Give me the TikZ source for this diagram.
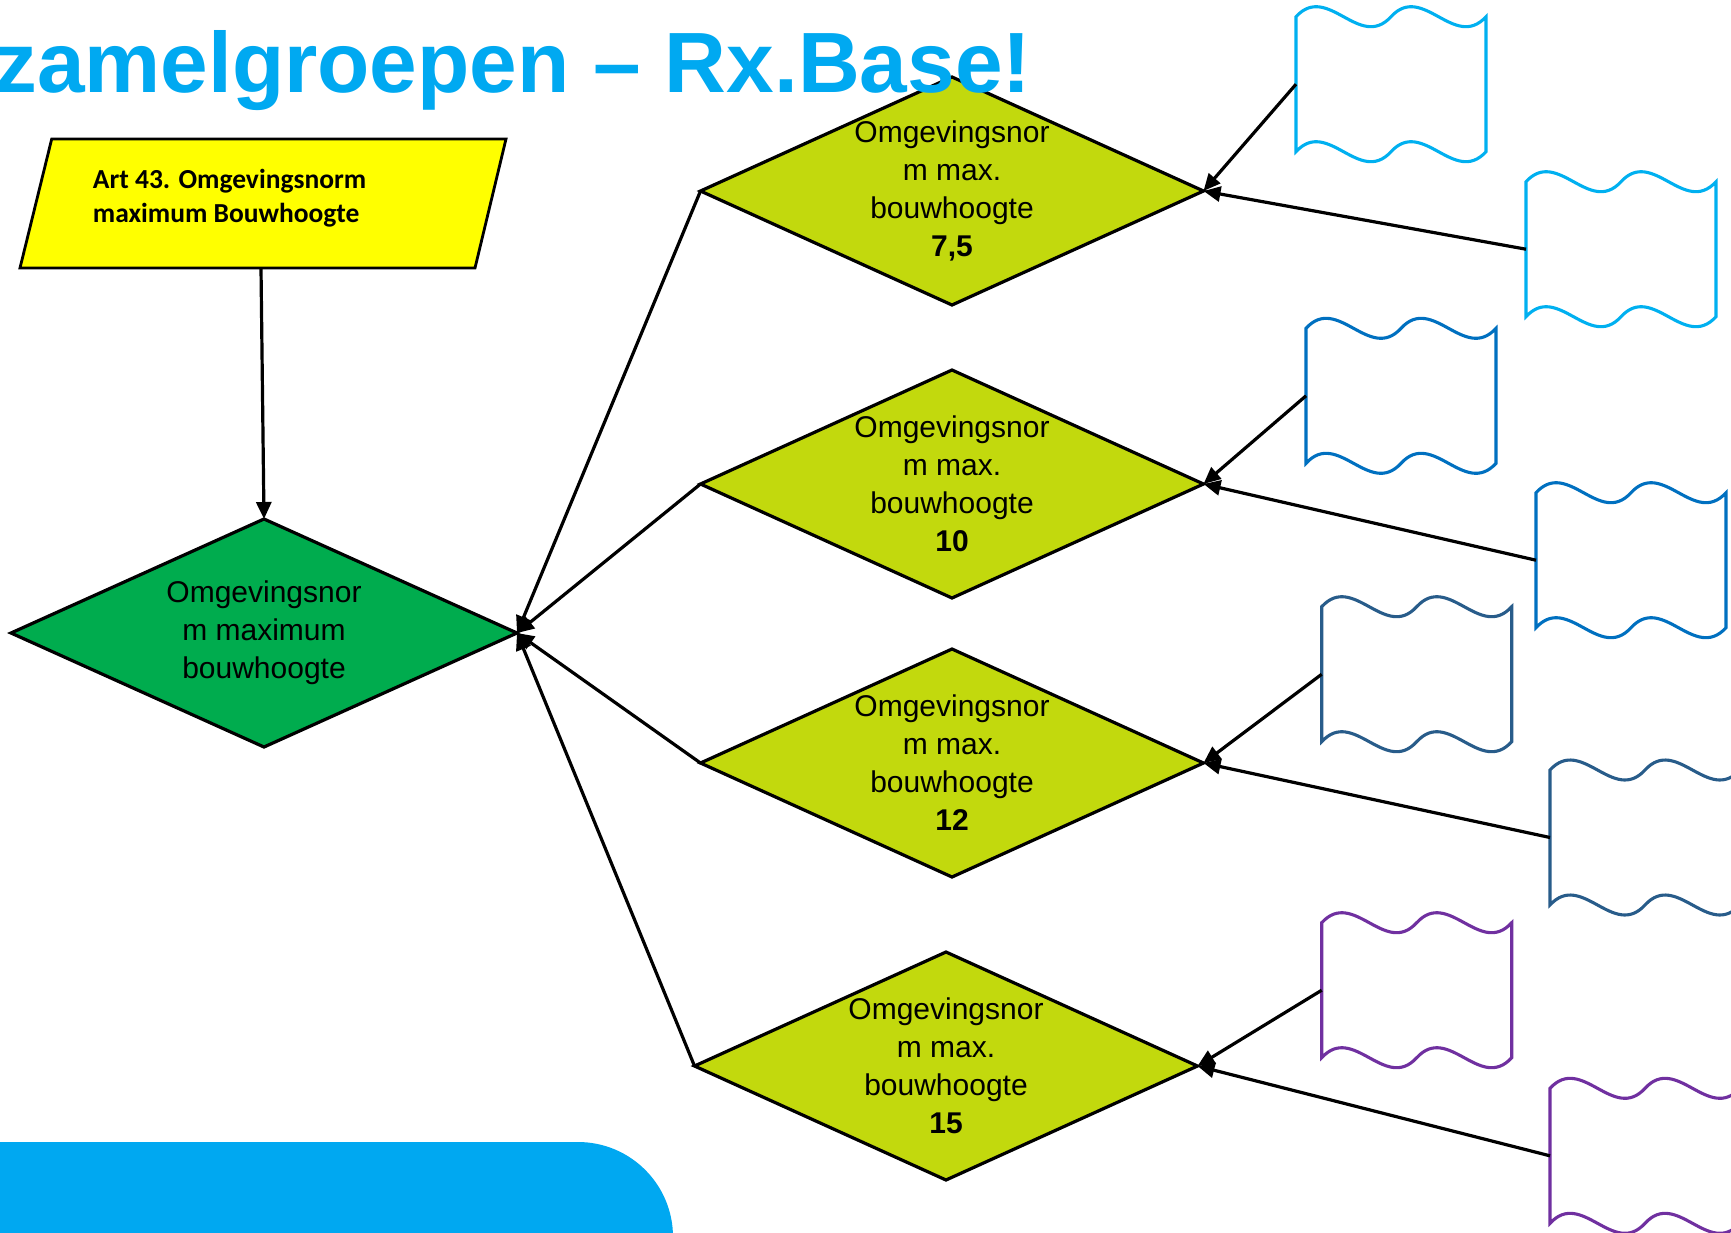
\documentclass[tikz,border=0pt]{standalone}
\usepackage{fontspec}
\setmainfont{Liberation Sans}
\newfontfamily\calibrifont{Carlito}
\usetikzlibrary{shapes.geometric,arrows.meta}
\definecolor{titleblue}{RGB}{0,169,241}
\definecolor{barblue}{RGB}{0,168,241}
\definecolor{dgreen}{RGB}{0,172,78}
\definecolor{lime}{RGB}{194,217,13}
\definecolor{pyellow}{RGB}{255,255,0}
\definecolor{docA}{RGB}{0,176,240}
\definecolor{docB}{RGB}{0,112,192}
\definecolor{docC}{RGB}{40,92,138}
\definecolor{docD}{RGB}{112,48,160}
\tikzset{
  dmd/.style={diamond, draw=black, line width=3.2pt, minimum width=503pt, minimum height=228pt, inner sep=0pt, outer sep=0pt},
  dtext/.style={align=center, font=\fontsize{30}{38}\selectfont, inner sep=0pt},
  conn/.style={line width=3.2pt, -{Triangle[length=17pt,width=15pt]}},
  docline/.style={line width=3.1pt, fill=white, line join=miter},
  docbox/.style={minimum width=190pt, minimum height=135pt, inner sep=0pt, outer sep=0pt, anchor=north west}
}
\newcommand{\wavedoc}[4]{%
  \node[docbox] (#1) at (#2,#3) {};
  \begin{scope}[shift={(#2,#3)}]
    \draw[docline, draw=#4] (0,0) .. controls (31.67,-34.6) and (63.33,34.6) .. (95,0)
      .. controls (126.67,-34.6) and (158.33,34.6) .. (190,0) -- (190,135)
      .. controls (158.33,169.6) and (126.67,100.4) .. (95,135)
      .. controls (63.33,169.6) and (31.67,100.4) .. (0,135) -- cycle;
  \end{scope}}
\begin{document}
\begin{tikzpicture}[x=1pt,y=-1pt]
\useasboundingbox (0,0) rectangle (1731,1232);
\fill[white] (0,0) rectangle (1731,1232);

% input parallelogram
\draw[fill=pyellow, line width=2.8pt] (51.7,139) -- (506,139) -- (475,268) -- (20,268) -- cycle;
\node[anchor=base west, inner sep=0pt, font=\calibrifont\bfseries\fontsize{27.5}{34}\selectfont] (ptext) at (92.7,188)
  {\begin{tabular}[t]{@{}l@{}}Art 43. Omgevingsnorm\\maximum Bouwhoogte\end{tabular}};
\coordinate (psouth) at (261,268);

% diamonds
\node[dmd, fill=dgreen, minimum width=506pt] (G) at (264,633) {};
\node[dtext] (Gt) at (G) {Omgevingsnor\\m maximum\\bouwhoogte};

\node[dmd, fill=lime] (D1) at (952,191) {};
\node[dtext] (D1t) at (D1) {Omgevingsnor\\m max.\\bouwhoogte\\\textbf{7,5}};
\node[dmd, fill=lime] (D2) at (952,484) {};
\node[dtext] (D2t) at (D2) {Omgevingsnor\\m max.\\bouwhoogte\\\textbf{10}};
\node[dmd, fill=lime] (D3) at (952,763) {};
\node[dtext] (D3t) at (D3) {Omgevingsnor\\m max.\\bouwhoogte\\\textbf{12}};
\node[dmd, fill=lime] (D4) at (946,1066) {};
\node[dtext] (D4t) at (D4) {Omgevingsnor\\m max.\\bouwhoogte\\\textbf{15}};

% documents
\wavedoc{d1a}{1296}{16.7}{docA}
\wavedoc{d1b}{1526}{181.7}{docA}
\wavedoc{d2a}{1306}{328.3}{docB}
\wavedoc{d2b}{1536}{492.7}{docB}
\wavedoc{d3a}{1321.7}{606.7}{docC}
\wavedoc{d3b}{1550}{770}{docC}
\wavedoc{d4a}{1321.7}{922.7}{docD}
\wavedoc{d4b}{1550}{1088.3}{docD}

% connectors
\draw[conn] (psouth) -- (G.north);
\draw[conn] (D1.west) -- (G.east);
\draw[conn] (D2.west) -- (G.east);
\draw[conn] (D3.west) -- (G.east);
\draw[conn] (D4.west) -- (G.east);
\draw[conn] (d1a.west) -- (D1.east);
\draw[conn] (d1b.west) -- (D1.east);
\draw[conn] (d2a.west) -- (D2.east);
\draw[conn] (d2b.west) -- (D2.east);
\draw[conn] (d3a.west) -- (D3.east);
\draw[conn] (d3b.west) -- (D3.east);
\draw[conn] (d4a.west) -- (D4.east);
\draw[conn] (d4b.west) -- (D4.east);

% title
\node[anchor=base west, inner sep=0pt, text=titleblue, font=\bfseries\fontsize{85.6}{90}\selectfont] (title) at (-6,92) {zamelgroepen – Rx.Base!};

% bottom bar
\begin{scope}
\clip (0,0) rectangle (1731,1232);
\fill[barblue, rounded corners=95pt] (-200,1142) rectangle (673,1420);
\end{scope}
\end{tikzpicture}
\end{document}
